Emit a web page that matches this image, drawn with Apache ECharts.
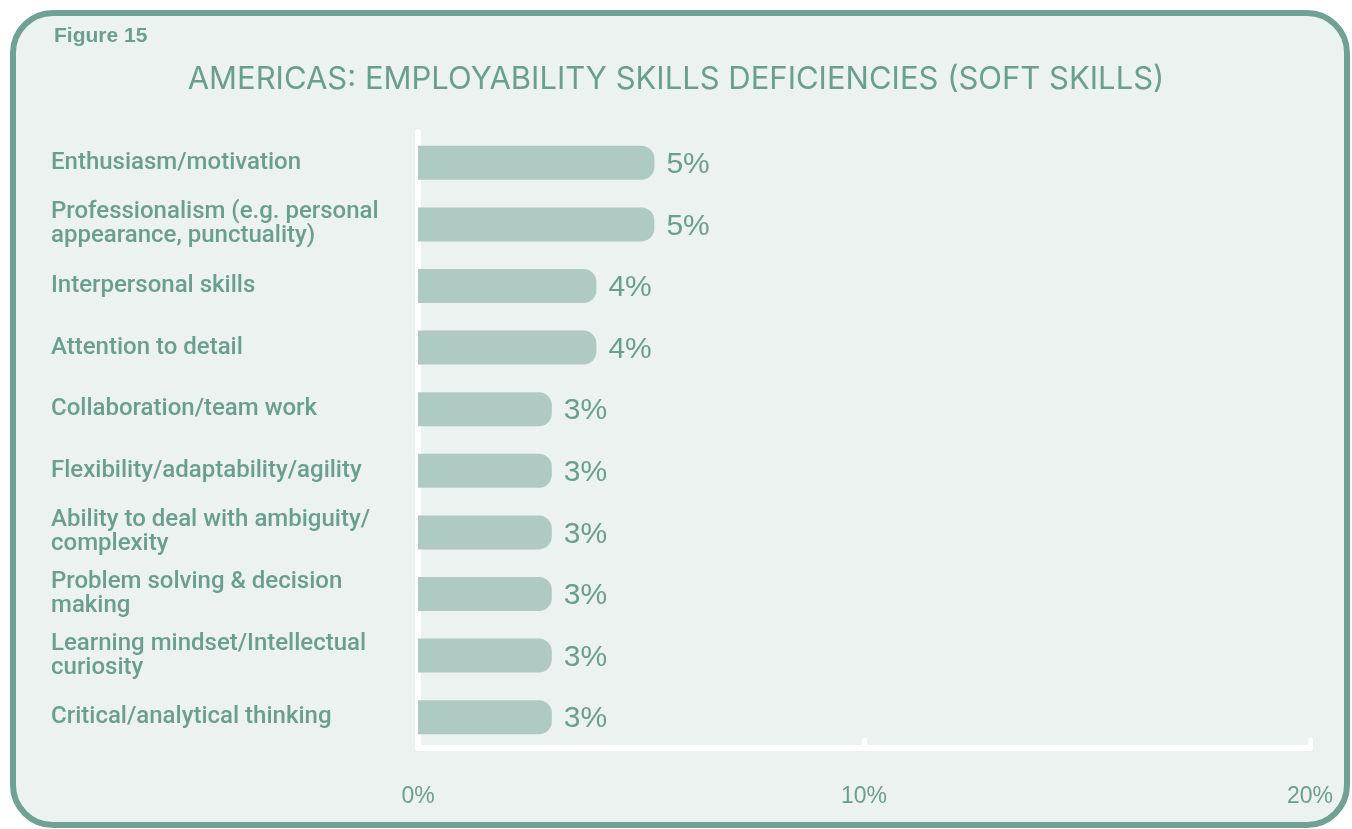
<!DOCTYPE html>
<html>
<head>
<meta charset="utf-8">
<script src="https://cdn.jsdelivr.net/npm/echarts@6/dist/echarts.min.js"></script>
<style>
html,body{margin:0;padding:0;background:#ffffff;}
#c{width:1352px;height:829px;}
</style>
</head>
<body>
<div id="c"></div>
<script>
const categories = [
  'Enthusiasm/motivation',
  'Professionalism (e.g. personal\nappearance, punctuality)',
  'Interpersonal skills',
  'Attention to detail',
  'Collaboration/team work',
  'Flexibility/adaptability/agility',
  'Ability to deal with ambiguity/\ncomplexity',
  'Problem solving & decision\nmaking',
  'Learning mindset/Intellectual\ncuriosity',
  'Critical/analytical thinking'
];
const values = [5.3, 5.3, 4.0, 4.0, 3.0, 3.0, 3.0, 3.0, 3.0, 3.0];
const xTicks = [0, 10, 20];

const teal = '#6a9e8f';
const chart = echarts.init(document.getElementById('c'));
chart.setOption({
  animation: false,
  graphic: [
    {type:'rect', shape:{x:13, y:13, width:1334, height:812, r:40},
     style:{fill:'#ecf2ef', stroke:'#6fa294', lineWidth:6}, z:-10},
    {type:'text', left:54, top:26, style:{text:'Figure 15', fill:teal, font:'bold 21px "Liberation Sans", Arial, sans-serif'}}
  ],
  title: {
    text: 'AMERICAS: EMPLOYABILITY SKILLS DEFICIENCIES (SOFT SKILLS)',
    left: 'center', top: 59,
    textStyle: {color: teal, fontSize: 31, fontWeight: 'normal', fontFamily: 'Inter, "Liberation Sans", sans-serif'}
  },
  grid: {left: 418, right: 42, top: 132, bottom: 81, containLabel: false},
  xAxis: {
    type: 'value', min: 0, max: 20, interval: 10,
    axisLine: {show: true, lineStyle: {color: '#ffffff', width: 6, cap: 'round'}},
    axisTick: {show: true, inside: true, length: 8, lineStyle: {color: '#ffffff', width: 5, cap: 'round'}},
    splitLine: {show: false},
    axisLabel: {
      margin: 37, color: teal, fontSize: 23,
      fontFamily: '"Liberation Sans", Arial, sans-serif',
      formatter: v => xTicks.includes(v) ? v + '%' : ''
    }
  },
  yAxis: {
    type: 'category', data: categories, inverse: true,
    axisLine: {show: true, lineStyle: {color: '#ffffff', width: 6, cap: 'round'}},
    axisTick: {show: false},
    axisLabel: {
      align: 'left', margin: 367, color: teal, fontSize: 24, lineHeight: 24, fontWeight: 500,
      padding: [8, 0, 0, 0],
      fontFamily: 'Roboto, "Liberation Sans", sans-serif'
    }
  },
  series: [{
    type: 'bar', data: values, barWidth: 34,
    itemStyle: {color: '#aecac2', borderRadius: [0, 13, 13, 0]},
    label: {
      show: true, position: 'right', distance: 12, color: teal, fontSize: 30,
      offset: [0, 2],
      fontFamily: '"Liberation Sans", Arial, sans-serif',
      formatter: p => Math.round(p.value) + '%'
    }
  }]
});
</script>
</body>
</html>
